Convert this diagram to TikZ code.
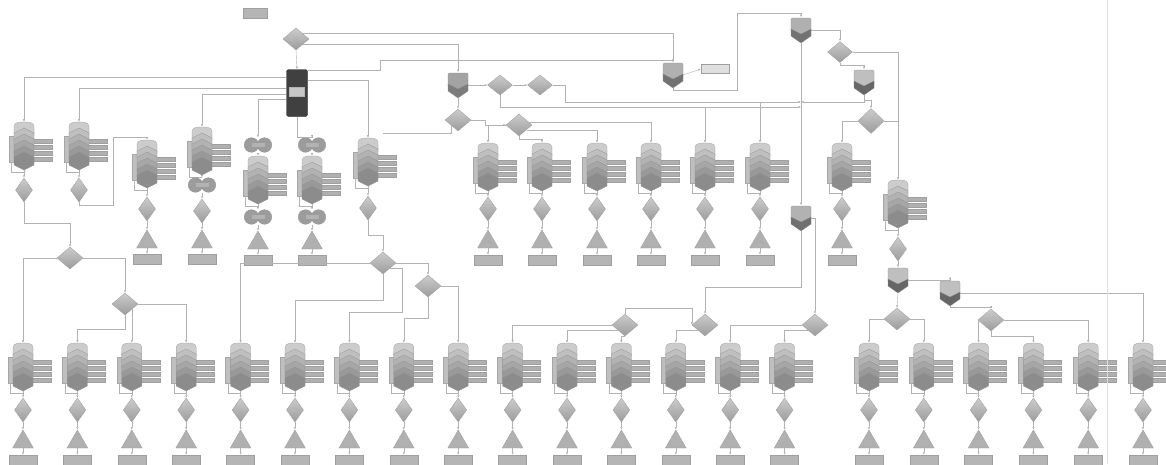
\documentclass[tikz,border=0pt]{standalone}
\usetikzlibrary{arrows.meta,shapes.geometric}
\tikzset{
  link/.style={draw=gray!60,line width=0.35pt,-{Latex[length=2.2pt,width=1.8pt]}},
  wire/.style={draw=gray!60,line width=0.35pt},
  diamondbox/.style={diamond,draw=gray!75,line width=0.3pt,top color=gray!40,bottom color=gray!78,
    inner sep=0pt,minimum width=0.51cm,minimum height=0.72cm},
  gatebox/.style={diamondbox,minimum width=0.78cm,minimum height=0.66cm},
  tribox/.style={regular polygon,regular polygon sides=3,draw=gray!75,line width=0.3pt,
    fill=gray!62,inner sep=0pt,minimum size=0.72cm},
  outbox/.style={draw=gray!75,line width=0.3pt,fill=gray!58,inner sep=0pt,
    minimum width=0.84cm,minimum height=0.3cm},
  hubbox/.style={draw=black!85,fill=black!75,rounded corners=1.5pt,inner sep=0pt,
    minimum width=0.63cm,minimum height=1.41cm},
  pics/stackbox/.style={code={
    \foreach \by in {17,23,29,35}
      \draw[gray!75,fill=gray!62,line width=0.2pt] (6,\by) rectangle (28,\by+4);
    \draw[gray!70,fill=gray!50,line width=0.2pt] (-15,14) rectangle (-10,40);
    \draw[gray!60,line width=0.3pt] (-12.5,40) |- (0,50);
    \draw[gray!80,fill=gray!40,line width=0.2pt]
      (-10,4) to[out=80,in=180] (0,0) to[out=0,in=100] (10,4) -- (10,13)
      -- (0,18) -- (-10,13) -- cycle;
    \foreach \i/\tone in {1/50,2/60,3/70,4/80,5/90}
      \draw[gray!85,fill=gray!\tone,line width=0.2pt]
        (-10,\i*6+5) -- (0,\i*6) -- (10,\i*6+5) -- (10,\i*6+13)
        -- (0,\i*6+18) -- (-10,\i*6+13) -- cycle;
    \node[inner sep=0pt,minimum width=0.6cm,minimum height=1.44cm] (-col) at (0,24) {};
  }},
  pics/shieldbox/.style={code={
    \draw[gray!85,fill=gray!#1,line width=0.2pt,rounded corners=1pt]
      (-10,-12) -- (10,-12) -- (10,2) -- (0,7) -- (-10,2) -- cycle;
    \draw[gray!90,fill=gray!#1!black!80,line width=0.2pt]
      (-10,-1) -- (0,4) -- (10,-1) -- (10,6) -- (0,13) -- (-10,6) -- cycle;
    \node[inner sep=0pt,minimum width=0.6cm,minimum height=0.75cm] (-box) at (0,0) {};
  }},
  pics/shieldbox/.default=50,
  pics/pairbox/.style={code={
    \draw[gray!90,fill=gray!78,line width=0.2pt] (-6.5,0) circle[radius=0.22cm];
    \draw[gray!90,fill=gray!78,line width=0.2pt] (6.5,0) circle[radius=0.22cm];
    \fill[gray!60] (-6.5,-2) rectangle (6.5,2);
    \node[inner sep=0pt,minimum width=0.83cm,minimum height=0.44cm] (-box) at (0,0) {};
  }}
}
\begin{document}
\begin{tikzpicture}[x=0.03cm,y=-0.03cm]
\path[use as bounding box,fill=white] (0,0) rectangle (1166,464);

% top: legend, entry gate, hub
\node[outbox,minimum width=0.72cm,fill=gray!58] (legend) at (255,13) {};
\node[gatebox] (d0) at (296,39) {};
\node[hubbox] (hub) at (297,93) {};
\node[fill=gray!45,draw=gray!60,inner sep=0pt,minimum width=0.45cm,minimum height=0.27cm] (hubpanel) at (297,92) {};

% first row, left branch
\pic (a1) at (24,122) {stackbox};
\node[diamondbox] (a1-dia) at (24,190) {};
\pic (b1) at (79,122) {stackbox};
\node[diamondbox] (b1-dia) at (79,190) {};
\pic (c1) at (147,140) {stackbox};
\node[diamondbox] (c1-dia) at (147,209) {};
\node[tribox] (c1-tri) at (147,242) {};
\node[outbox] (c1-out) at (147,259) {};
\pic (d1) at (202,127) {stackbox};
\pic (d1-pair) at (202,185) {pairbox};
\node[diamondbox] (d1-dia) at (202,211) {};
\node[tribox] (d1-tri) at (202,242) {};
\node[outbox] (d1-out) at (202,259) {};
\foreach \x/\n in {258/e1,312/f1}{
  \pic (\n-up) at (\x,145) {pairbox};
  \pic (\n) at (\x,156) {stackbox};
  \pic (\n-dn) at (\x,217) {pairbox};
  \node[tribox] (\n-tri) at (\x,243) {};
  \node[outbox] (\n-out) at (\x,260) {};
  \draw[link] (\n-up-box.south) -- (\n-col.north);
  \draw[link] (\n-col.south) -- (\n-dn-box.north);
  \draw[link] (\n-dn-box.south) -- (\n-tri.north);
  \draw[link] (\n-tri.south) -- (\n-out.north);
}
\pic (g1) at (368,138) {stackbox};
\node[diamondbox] (g1-dia) at (368,208) {};

% first row, right branch
\foreach \x/\n in {488/r1,542/r2,597/r3,651/r4,705/r5,760/r6,842/r7}{
  \pic (\n) at (\x,143) {stackbox};
  \node[diamondbox] (\n-dia) at (\x,209) {};
  \node[tribox] (\n-tri) at (\x,242) {};
  \node[outbox] (\n-out) at (\x,260) {};
  \draw[link] (\n-col.south) -- (\n-dia.north);
  \draw[link] (\n-dia.south) -- (\n-tri.north);
  \draw[link] (\n-tri.south) -- (\n-out.north);
}

% bottom row
\foreach \i in {0,...,14}{
  \pic (q\i) at ({23+54.4*\i},343) {stackbox};
  \node[diamondbox] (q\i-dia) at ({23+54.4*\i},410) {};
  \node[tribox] (q\i-tri) at ({23+54.4*\i},442) {};
  \node[outbox] (q\i-out) at ({23+54.4*\i},460) {};
  \draw[link] (q\i-col.south) -- (q\i-dia.north);
  \draw[link] (q\i-dia.south) -- (q\i-tri.north);
  \draw[link] (q\i-tri.south) -- (q\i-out.north);
}
\foreach \j in {0,...,5}{
  \pic (p\j) at ({869+54.8*\j},343) {stackbox};
  \node[diamondbox] (p\j-dia) at ({869+54.8*\j},410) {};
  \node[tribox] (p\j-tri) at ({869+54.8*\j},442) {};
  \node[outbox] (p\j-out) at ({869+54.8*\j},460) {};
  \draw[link] (p\j-col.south) -- (p\j-dia.north);
  \draw[link] (p\j-dia.south) -- (p\j-tri.north);
  \draw[link] (p\j-tri.south) -- (p\j-out.north);
}

% gates and shields
\pic (s1) at (458,85) {shieldbox=72};
\node[gatebox,minimum width=0.75cm,minimum height=0.6cm] (m1) at (500,85) {};
\node[gatebox,minimum width=0.75cm,minimum height=0.6cm] (m2) at (540,85) {};
\node[gatebox] (m3) at (458,120) {};
\node[gatebox] (m4) at (519,125) {};
\coordinate (loose) at (383,133);
\pic (s2) at (673,75) {shieldbox=62};
\node[outbox,fill=gray!25,minimum height=0.27cm] (note) at (715,69) {};
\pic (s3) at (801,30) {shieldbox=62};
\node[gatebox,minimum width=0.75cm,minimum height=0.63cm] (m5) at (840,52) {};
\pic (s4) at (864,82) {shieldbox};
\node[gatebox,minimum height=0.75cm] (m6) at (871,121) {};
\pic (s5) at (801,218) {shieldbox=60};
\pic (h1) at (898,180) {stackbox};
\node[diamondbox] (h1-dia) at (898,249) {};
\pic (s6) at (898,280) {shieldbox};
\pic (s7) at (950,293) {shieldbox};
\node[gatebox] (m7) at (897,319) {};
\node[gatebox] (m8) at (991,320) {};
\node[gatebox] (m9) at (70,258) {};
\node[gatebox] (m10) at (125,304) {};
\node[gatebox] (m11) at (383,263) {};
\node[gatebox] (m12) at (428,286) {};
\node[gatebox] (m13) at (625,325) {};
\node[gatebox] (m14) at (705,325) {};
\node[gatebox] (m15) at (815,325) {};

% hub fan-out
\draw[link] (d0.south) -- (hub.north);
\draw[link] (d0.north east) -| (s2-box.north);
\draw[link] (d0.south east) -| (s1-box.north);
\draw[link] (hub.west) ++(0,-16) -| (a1-col.north);
\draw[link] (hub.west) ++(0,-5) -| (b1-col.north);
\draw[link] (hub.west) ++(0,1) -| (d1-col.north);
\draw[link] (hub.west) ++(0,6) -| (e1-up-box.north);
\draw[link] (hub.south) -- ++(0,20) -| (f1-up-box.north);
\draw[link] (hub.east) ++(0,-13) -| (g1-col.north);
\draw[link] (hub.east) ++(0,-23) -- ++(72,0) -- ++(0,-10) -| (s2-box.north);

% left branch
\draw[link] (a1-col.south) -- (a1-dia.north);
\draw[link] (b1-col.south) -- (b1-dia.north);
\draw[link] (c1-col.south) -- (c1-dia.north);
\draw[link] (c1-dia.south) -- (c1-tri.north);
\draw[link] (c1-tri.south) -- (c1-out.north);
\draw[link] (d1-col.south) -- (d1-pair-box.north);
\draw[link] (d1-pair-box.south) -- (d1-dia.north);
\draw[link] (d1-dia.south) -- (d1-tri.north);
\draw[link] (d1-tri.south) -- (d1-out.north);
\draw[link] (g1-col.south) -- (g1-dia.north);
\draw[link] (b1-dia.south) -- ++(0,3) -| ++(34,-68) -| (c1-col.north);
\draw[link] (a1-dia.south) -- ++(0,21) -| (m9.north);
\draw[link] (m9.west) -| (q0-col.north);
\draw[link] (m9.east) -| (m10.north);
\draw[link] (m10.east) -| (q3-col.north);
\draw[link] (m10.south) -- ++(0,14) -| (q1-col.north);
\draw[link] (m10.south east) -| (q2-col.north);
\draw[link] (g1-dia.south) -- ++(0,15) -| (m11.north);
\draw[link] (m11.east) -| (m12.north);
\draw[link] (m11.west) -| (q4-col.north);
\draw[link] (m11.south) -- ++(0,26) -| (q5-col.north);
\draw[link] (m11.south east) -- ++(12.5,0) -- ++(0,43.5) -| (q6-col.north);
\draw[link] (m12.east) -| (q8-col.north);
\draw[link] (m12.south) -- ++(0,21) -| (q7-col.north);

% right branch
\draw[link] (s1-box.east) -- (m1.west);
\draw[link] (m1.east) -- (m2.west);
\draw[link] (s1-box.south) -- (m3.north);
\draw[link] (m3.east) -- ++(14,0) |- (m4.west);
\draw[wire] (m3.south west) |- (loose);
\draw[link] (m4.west) -| (r1-col.north);
\draw[link] (m4.south) -- ++(0,3) -| (r2-col.north);
\draw[link] (m4.east) ++(-5,5) -| (r3-col.north);
\draw[link] (m4.east) ++(-3,-3) -| (r4-col.north);
\coordinate (jn) at (801,102);
\coordinate (jm) at (801,107);
\draw[link] (m1.south) |- (jm);
\draw[link] (m2.east) -- ++(13,0) |- (jn);
\draw[link] (jm -| r5-col.north) -- (r5-col.north);
\draw[link] (jn -| r6-col.north) -- (r6-col.north);
\draw[link] (s2-box.east) -- (note.west);
\draw[link] (s2-box.south) -- ++(0,2) -| ++(64,-77) -| (s3-box.north);
\draw[link] (s3-box.east) -| (m5.north);
\draw[link] (s3-box.south) -- (s5-box.north);
\draw[link] (s4-box.south) |- (jn);
\draw[link] (m5.south) -- ++(0,3) -| (s4-box.north);
\draw[link] (m5.east) -| (h1-col.north);
\draw[link] (s4-box.south) -- ++(0,5) -| (m6.north);
\draw[link] (m6.west) -| (r7-col.north);
\draw[wire] (m6.east) -- (m6.east -| h1-col.north);
\draw[link] (s5-box.south) -- ++(0,56) -| (m14.north);
\draw[link] (s5-box.east) -| (m15.north);
\draw[link] (m13.north) -- ++(0,-6) -| (m14.west);
\draw[link] (m13.west) -| (q9-col.north);
\draw[link] (m13.south west) -| (q10-col.north);
\draw[link] (m13.south) -| (q11-col.north);
\draw[link] (m14.south west) -| (q12-col.north);
\draw[link] (m15.west) -| (q13-col.north);
\draw[link] (m15.south west) -| (q14-col.north);
\draw[link] (h1-col.south) -- (h1-dia.north);
\draw[link] (h1-dia.south) -- (s6-box.north);
\draw[link] (s6-box.south) -- (m7.north);
\draw[link] (s6-box.east) -| (s7-box.north);
\draw[link] (s7-box.east) -| (p5-col.north);
\draw[link] (s7-box.south) -- ++(0,1) -| (m8.north);
\draw[link] (m7.west) -| (p0-col.north);
\draw[link] (m7.east) -| (p1-col.north);
\draw[link] (m8.west) -| (p2-col.north);
\draw[link] (m8.east) -| (p4-col.north);
\draw[link] (m8.south) -- ++(0,5) -| (p3-col.north);

% page edge
\draw[gray!25,line width=0.3pt] (1107,0) -- (1107,464);
\end{tikzpicture}
\end{document}
